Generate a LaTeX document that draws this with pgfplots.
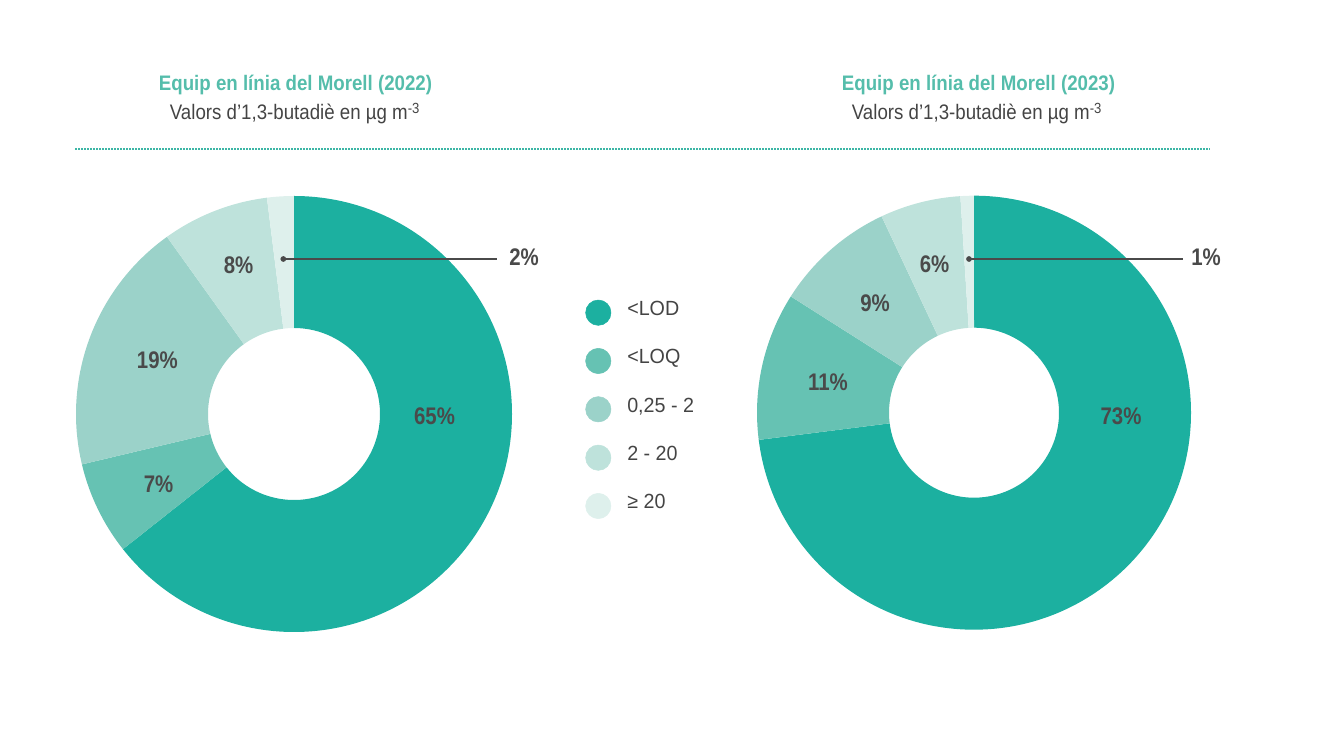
\documentclass[border=0pt]{standalone}
\usepackage{pgfplots}
\pgfplotsset{compat=1.18}
\usepackage{pgfplotstable}
\usepackage{fontspec}
\setmainfont{Liberation Sans}
\newfontfamily\condfont{Liberation Sans}[FakeStretch=0.89]
\newfontfamily\labfont{Liberation Sans}[FakeStretch=0.85]
\newfontfamily\legfont{Liberation Sans}[FakeStretch=0.96]

\definecolor{c0}{HTML}{1CB0A0}
\definecolor{c1}{HTML}{66C2B3}
\definecolor{c2}{HTML}{9BD2C9}
\definecolor{c3}{HTML}{BEE2DB}
\definecolor{c4}{HTML}{DEF0EC}
\definecolor{titlecol}{HTML}{55BDAB}
\definecolor{txt}{HTML}{444444}
\definecolor{lab}{HTML}{4A4A4A}
\definecolor{dotline}{HTML}{3DB6A6}

% Equip en linia del Morell (2022)
\pgfplotstableread{
cat val
LOD 65
LOQ 7
r025 19
r2 8
r20 2
}\tblA
% Equip en linia del Morell (2023)
\pgfplotstableread{
cat val
LOD 73
LOQ 11
r025 9
r2 6
r20 1
}\tblB

% #1 table, #2 cx, #3 cy, #4 outer radius, #5 inner radius (axis units), #6 result macro
\newcommand\buildDonut[6]{%
  \def\tot{0}%
  \pgfplotsforeachungrouped \ii in {0,...,4}{%
    \pgfplotstablegetelem{\ii}{val}\of{#1}%
    \pgfmathsetmacro\tot{\tot+\pgfplotsretval}}%
  \def\acc{90}%
  \gdef#6{}%
  \pgfplotsforeachungrouped \ii in {0,...,4}{%
    \pgfplotstablegetelem{\ii}{val}\of{#1}%
    \pgfmathsetmacro\nxt{\acc-\pgfplotsretval/\tot*360}%
    \pgfmathsetmacro\xa{#2+#4*cos(\acc)}%
    \pgfmathsetmacro\ya{#3+#4*sin(\acc)}%
    \pgfmathsetmacro\xb{#2+#5*cos(\nxt)}%
    \pgfmathsetmacro\yb{#3+#5*sin(\nxt)}%
    \pgfmathsetmacro\ro{#4*0.75}%
    \pgfmathsetmacro\ri{#5*0.75}%
    \xdef#6{\unexpanded\expandafter{#6}\noexpand\fill[c\ii] (axis cs:\xa,\ya) arc[start angle=\acc, end angle=\nxt, radius=\ro pt] -- (axis cs:\xb,\yb) arc[start angle=\nxt, end angle=\acc, radius=\ri pt] -- cycle;}%
    \let\acc\nxt
  }%
}
\buildDonut{\tblA}{294}{338}{218}{86}{\donutA}
\buildDonut{\tblB}{974}{339.3}{217}{85}{\donutB}

\begin{document}
\begin{tikzpicture}
\begin{axis}[
  x=0.75pt, y=0.75pt,
  xmin=0, xmax=1326, ymin=0, ymax=752,
  hide axis, clip=false,
]
\path (axis cs:0,0) rectangle (axis cs:1326,752);
\donutA
\donutB

% titles
\node[anchor=base, inner sep=0pt, text=titlecol, font=\condfont\bfseries\fontsize{15.75}{18}\selectfont] at (axis cs:295.5,661) {Equip en línia del Morell (2022)};
\node[anchor=base, inner sep=0pt, text=txt, font=\condfont\fontsize{15.75}{18}\selectfont] at (axis cs:295,632) {Valors d’1,3-butadiè en µg m\textsuperscript{-3}};
\node[anchor=base, inner sep=0pt, text=titlecol, font=\condfont\bfseries\fontsize{15.75}{18}\selectfont] at (axis cs:978.5,661) {Equip en línia del Morell (2023)};
\node[anchor=base, inner sep=0pt, text=txt, font=\condfont\fontsize{15.75}{18}\selectfont] at (axis cs:977,632) {Valors d’1,3-butadiè en µg m\textsuperscript{-3}};
\draw[dotline, line width=1.3pt, dash pattern=on 1.5pt off 0.75pt] (axis cs:75,603) -- (axis cs:1210,603);

% leader lines
\draw[lab, line width=1.5pt] (axis cs:283.3,493) -- (axis cs:496.7,493);
\draw[lab, line width=1.5pt] (axis cs:969,493) -- (axis cs:1183,493);
\addplot[only marks, mark=*, mark size=1.9pt, color=lab] coordinates {(283.3,493) (969,493)};

% slice labels
\tikzset{pl/.style={anchor=base, inner sep=0pt, text=lab, font=\labfont\bfseries\fontsize{18}{20}\selectfont}}
\node[pl] at (axis cs:434.5,327) {65\%};
\node[pl] at (axis cs:158.5,259) {7\%};
\node[pl] at (axis cs:157.4,383) {19\%};
\node[pl] at (axis cs:238.5,478) {8\%};
\node[pl] at (axis cs:524,486) {2\%};
\node[pl] at (axis cs:1121,327) {73\%};
\node[pl] at (axis cs:828,361.3) {11\%};
\node[pl] at (axis cs:875,440) {9\%};
\node[pl] at (axis cs:934.5,479.7) {6\%};
\node[pl] at (axis cs:1206,486) {1\%};

% legend
\addplot[only marks, mark=*, mark size=9.5pt, color=c0] coordinates {(598.3,439.3)};
\addplot[only marks, mark=*, mark size=9.5pt, color=c1] coordinates {(598.3,391)};
\addplot[only marks, mark=*, mark size=9.5pt, color=c2] coordinates {(598.3,342.7)};
\addplot[only marks, mark=*, mark size=9.5pt, color=c3] coordinates {(598.3,294.3)};
\addplot[only marks, mark=*, mark size=9.5pt, color=c4] coordinates {(598.3,246)};
\tikzset{lg/.style={anchor=base west, inner sep=0pt, text=txt, font=\legfont\fontsize{15.4}{18}\selectfont}}
\node[lg] at (axis cs:627,436.3) {<LOD};
\node[lg] at (axis cs:627,388) {<LOQ};
\node[lg] at (axis cs:627,339.7) {0,25 - 2};
\node[lg] at (axis cs:627,291.4) {2 - 20};
\node[lg] at (axis cs:627,243) {≥ 20};
\end{axis}
\end{tikzpicture}
\end{document}
